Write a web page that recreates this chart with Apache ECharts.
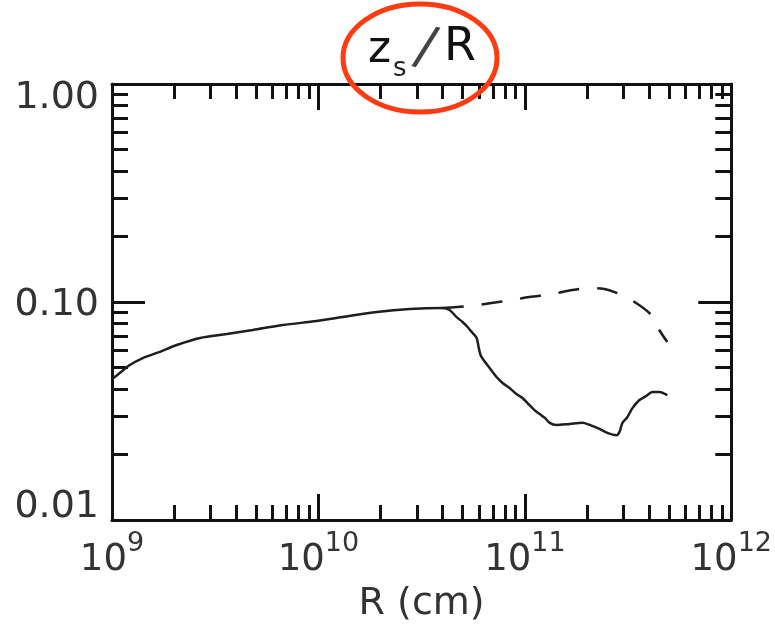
<!DOCTYPE html>
<html>
<head>
<meta charset="utf-8">
<script src="https://cdn.jsdelivr.net/npm/echarts@6/dist/echarts.min.js"></script>
<style>
html,body{margin:0;padding:0;background:#fff;}
#c{width:775px;height:631px;}
</style>
</head>
<body>
<div id="c"></div>
<script>
// ---- data (R in cm, z_s/R dimensionless) ----
const solidR = [1.00e9, 1.09e9, 1.22e9, 1.41e9, 1.65e9, 2.06e9, 2.67e9, 3.60e9, 4.81e9, 6.72e9, 9.81e9,
  1.31e10, 1.92e10, 2.77e10, 4.00e10, 4.32e10, 4.67e10, 4.99e10, 5.28e10, 5.58e10, 5.84e10, 5.97e10, 6.10e10,
  6.31e10, 6.75e10, 7.29e10, 7.80e10, 8.43e10, 9.11e10, 9.74e10, 1.05e11, 1.11e11, 1.18e11, 1.25e11, 1.32e11,
  1.42e11, 1.65e11, 1.90e11, 2.06e11, 2.30e11, 2.51e11, 2.78e11, 2.87e11, 2.97e11, 3.14e11, 3.32e11, 3.59e11,
  3.88e11, 4.15e11, 4.48e11, 4.90e11];
const solidZ = [0.0443, 0.0472, 0.0514, 0.0553, 0.0584, 0.0635, 0.0684, 0.0713, 0.0744, 0.0784, 0.0818,
  0.0853, 0.0900, 0.0929, 0.0939, 0.0919, 0.0853, 0.0810, 0.0768, 0.0721, 0.0684, 0.0622, 0.0571,
  0.0542, 0.0498, 0.0453, 0.0425, 0.0403, 0.0378, 0.0363, 0.0337, 0.0320, 0.0306, 0.0294, 0.0279,
  0.0273, 0.0276, 0.0279, 0.0273, 0.0262, 0.0251, 0.0245, 0.0253, 0.0279, 0.0297, 0.0326, 0.0355,
  0.0371, 0.0387, 0.0387, 0.0374];
const dashR = [4.00e10, 5.40e10, 6.90e10, 8.71e10, 1.05e11, 1.36e11, 1.70e11, 2.10e11, 2.43e11, 2.72e11,
  3.28e11, 4.10e11, 4.48e11, 4.90e11];
const dashZ = [0.0939, 0.0959, 0.0989, 0.1021, 0.1054, 0.1088, 0.1135, 0.1160, 0.1147, 0.1111,
  0.1021, 0.0872, 0.0744, 0.0655];
const xRange = [1e9, 1e12];
const yRange = [0.01, 1];
const yTickLabels = {'0.01': '0.01', '0.10': '0.10', '1.00': '1.00'};
const xAxisName = 'R (cm)';

// minor tick positions (log space) for decoration axes
function minorLogs(lo, hi) {
  const out = [];
  for (let e = lo; e < hi; e++) for (let k = 2; k <= 9; k++) out.push(e + Math.log10(k));
  return out;
}
const xMinor = minorLogs(9, 12);
const yMinor = minorLogs(-2, 0);

const FONT = 'DejaVu Sans';
const TXT = '#333';
const LINE = '#111';

const chart = echarts.init(document.getElementById('c'), null, {renderer: 'canvas'});

const majorX = (pos, extra) => Object.assign({
  type: 'log', logBase: 10, min: xRange[0], max: xRange[1], position: pos, gridIndex: 0,
  axisLine: {show: true, onZero: false, lineStyle: {color: LINE, width: 3}},
  axisTick: {show: true, inside: true, length: 26, lineStyle: {color: LINE, width: 3}},
  axisLabel: {show: false},
  splitLine: {show: false}, minorTick: {show: false}
}, extra || {});
const minorX = (pos) => ({
  type: 'value', min: 9, max: 12, position: pos, gridIndex: 0,
  axisLine: {show: false, onZero: false},
  axisTick: {show: true, inside: true, length: 15, customValues: xMinor, lineStyle: {color: LINE, width: 3}},
  axisLabel: {show: false}, splitLine: {show: false}
});
const majorY = (pos, extra) => Object.assign({
  type: 'log', logBase: 10, min: yRange[0], max: yRange[1], position: pos, gridIndex: 0,
  axisLine: {show: true, onZero: false, lineStyle: {color: LINE, width: 3}},
  axisTick: {show: true, inside: true, length: 33, lineStyle: {color: LINE, width: 3}},
  axisLabel: {show: false},
  splitLine: {show: false}, minorTick: {show: false}
}, extra || {});
const minorY = (pos) => ({
  type: 'value', min: -2, max: 0, position: pos, gridIndex: 0,
  axisLine: {show: false, onZero: false},
  axisTick: {show: true, inside: true, length: 16, customValues: yMinor, lineStyle: {color: LINE, width: 3}},
  axisLabel: {show: false}, splitLine: {show: false}
});

const option = {
  animation: false,
  backgroundColor: '#fff',
  grid: {left: 112, right: 43, top: 84, bottom: 111, containLabel: false},
  xAxis: [
    majorX('bottom', {
      name: xAxisName, nameLocation: 'middle', nameGap: 65,
      nameTextStyle: {fontFamily: FONT, fontSize: 38, color: TXT},
      axisLabel: {
        show: true, margin: 10, showMinLabel: true, showMaxLabel: true,
        formatter: v => '{b|10}{s|' + Math.round(Math.log10(v)) + '}',
        rich: {
          b: {fontFamily: FONT, fontSize: 37, color: TXT, padding: [12, 0, 0, 0]},
          s: {fontFamily: FONT, fontSize: 27, color: TXT, verticalAlign: 'top'}
        }
      }
    }),
    majorX('top'),
    minorX('bottom'),
    minorX('top')
  ],
  yAxis: [
    majorY('left', {
      axisLabel: {
        show: true, margin: 13, showMinLabel: true, showMaxLabel: true,
        formatter: v => {
          const s = (Math.round(v * 100) / 100).toFixed(2);
          const t = yTickLabels[s] || s;
          if (s === '1.00') return '{t|' + t + '}';
          if (s === '0.01') return '{b|' + t + '}';
          return '{m|' + t + '}';
        },
        rich: {
          t: {fontFamily: FONT, fontSize: 38, color: TXT, padding: [28, 0, 0, 0]},
          m: {fontFamily: FONT, fontSize: 38, color: TXT, padding: [6, 0, 0, 0]},
          b: {fontFamily: FONT, fontSize: 38, color: TXT, padding: [0, 0, 26, 0]}
        }
      }
    }),
    majorY('right'),
    minorY('left'),
    minorY('right')
  ],
  series: [
    {
      type: 'line', xAxisIndex: 0, yAxisIndex: 0, showSymbol: false, smooth: 0.3,
      data: solidR.map((r, i) => [r, solidZ[i]]),
      lineStyle: {color: '#1e1e1e', width: 2.5}
    },
    {
      type: 'line', xAxisIndex: 0, yAxisIndex: 0, showSymbol: false, smooth: 0.3,
      data: dashR.map((r, i) => [r, dashZ[i]]),
      lineStyle: {color: '#1e1e1e', width: 2.5, type: [21, 18], dashOffset: 0}
    }
  ],
  graphic: [
    {type: 'text', x: 368, y: 51, z: 100, style: {text: 'z', fontFamily: FONT, fontSize: 44, fill: '#111', verticalAlign: 'middle', align: 'left'}},
    {type: 'text', x: 393, y: 69, z: 100, style: {text: 's', fontFamily: FONT, fontSize: 26, fill: '#222', verticalAlign: 'middle', align: 'left'}},
    {type: 'text', x: 416, y: 50, rotation: -0.26, originX: 9, originY: 0, z: 100, style: {text: '/', fontFamily: FONT, fontSize: 54, fill: '#444', verticalAlign: 'middle', align: 'left'}},
    {type: 'text', x: 444, y: 48, z: 100, style: {text: 'R', fontFamily: FONT, fontSize: 46, fill: '#111', verticalAlign: 'middle', align: 'left'}},
    {type: 'ellipse', z: 101, shape: {cx: 420, cy: 58, rx: 77, ry: 54},
      style: {fill: 'none', stroke: '#ff3b12', lineWidth: 5}}
  ]
};
chart.setOption(option);
</script>
</body>
</html>
